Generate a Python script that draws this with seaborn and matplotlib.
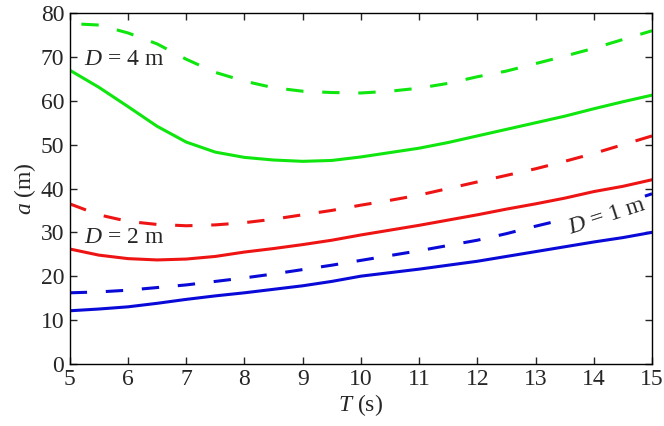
import numpy as np
import pandas as pd
import seaborn as sns
import matplotlib
import matplotlib.pyplot as plt
matplotlib.use('Agg')

# Period T (s)
T = [5, 5.5, 6, 6.5, 7, 7.5, 8, 8.5, 9, 9.5, 10, 10.5, 11, 11.5, 12, 12.5, 13, 13.5, 14, 14.5, 15]

# D = 4 m
T_green_dash = [5.2, 5.5, 6, 6.5, 7, 7.5, 8, 8.5, 9, 9.5, 10, 10.5, 11, 11.5, 12, 12.5, 13, 13.5, 14, 14.5, 15]
green_dash = [77.5, 77.3, 75.5, 73.0, 69.5, 66.5, 64.5, 63.0, 62.2, 61.9, 61.8, 62.2, 62.9, 64.0, 65.5, 66.8, 68.5, 70.2, 72.0, 74.0, 76.0]
green_solid = [67.0, 63.1, 58.7, 54.2, 50.6, 48.3, 47.1, 46.5, 46.2, 46.4, 47.2, 48.2, 49.2, 50.5, 52.0, 53.5, 55.0, 56.5, 58.2, 59.8, 61.3]

# D = 2 m
red_dash = [36.5, 34.0, 32.5, 31.8, 31.5, 31.7, 32.2, 33.0, 34.0, 35.0, 36.2, 37.3, 38.5, 40.0, 41.5, 43.0, 44.5, 46.2, 48.0, 50.0, 52.0]
red_solid = [26.2, 24.8, 24.0, 23.7, 23.9, 24.5, 25.5, 26.3, 27.2, 28.2, 29.4, 30.5, 31.6, 32.8, 34.0, 35.3, 36.5, 37.8, 39.3, 40.5, 42.0]

# D = 1 m
blue_dash = [16.2, 16.4, 16.8, 17.4, 18.0, 18.8, 19.6, 20.5, 21.5, 22.5, 23.6, 24.7, 25.8, 27.0, 28.2, 29.7, 31.4, 33.0, 34.8, 36.6, 38.8]
blue_solid = [12.1, 12.5, 13.0, 13.8, 14.7, 15.5, 16.2, 17.0, 17.8, 18.8, 20.0, 20.8, 21.6, 22.5, 23.4, 24.5, 25.6, 26.7, 27.8, 28.8, 30.0]

sns.set_style('ticks')
plt.rcParams['font.family'] = ['Liberation Serif', 'DejaVu Serif']
plt.rcParams['mathtext.fontset'] = 'custom'
plt.rcParams['mathtext.it'] = 'Liberation Serif:italic'
plt.rcParams['mathtext.rm'] = 'Liberation Serif'
plt.rcParams['lines.scale_dashes'] = False

fig = plt.figure(figsize=(6.64, 4.26), dpi=100)
ax = fig.add_axes([0.105, 0.146, 0.877, 0.823])

green, red, blue = '#0ee60e', '#ee1414', '#0a0ad8'
lw = 2.2
fs = 17

# solid and dashed curves for each depth
curves = [
    (T_green_dash, green_dash, green, True),
    (T, green_solid, green, False),
    (T, red_dash, red, True),
    (T, red_solid, red, False),
    (T, blue_dash, blue, True),
    (T, blue_solid, blue, False),
]
for xs, ys, c, dashed in curves:
    sns.lineplot(x=xs, y=ys, ax=ax, color=c, lw=lw)
    if dashed:
        ax.get_lines()[-1].set_linestyle((0, (12.5, 13.5)))

ax.set_xlim(5, 15)
ax.set_ylim(0, 80)
ax.set_xticks(range(5, 16))
ax.set_yticks(range(0, 81, 10))
ax.tick_params(direction='in', top=True, right=True, labelsize=fs, length=5, width=1, pad=4)
for s in ax.spines.values():
    s.set_linewidth(1)
    s.set_color('black')

ax.set_xlabel('$T$ (s)', fontsize=fs, labelpad=1)
ax.set_ylabel('$a$ (m)', fontsize=fs, labelpad=2)

ax.text(5.25, 69.5, '$D$ = 4 m', fontsize=fs, va='center', ha='left')
ax.text(5.25, 28.8, '$D$ = 2 m', fontsize=fs, va='center', ha='left')
# white box hides the dashed blue line behind the label
ax.text(14.22, 33.6, '$D$ = 1 m', fontsize=fs, va='center', ha='center', rotation=18,
        rotation_mode='anchor', zorder=5,
        bbox=dict(facecolor='white', edgecolor='none', pad=1.8))

plt.savefig('out.png', dpi=100)
plt.close()
